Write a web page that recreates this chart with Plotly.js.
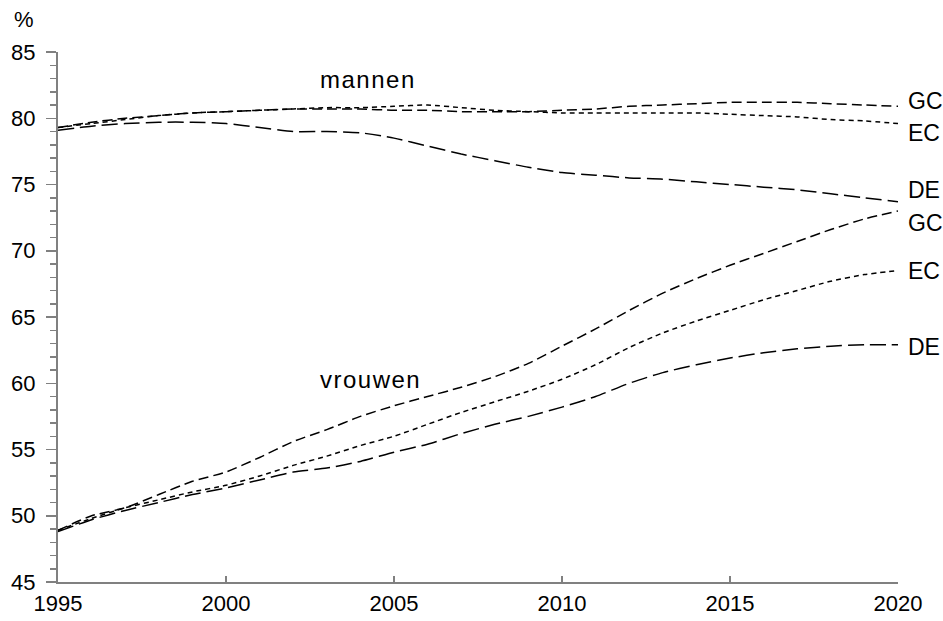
<!DOCTYPE html>
<html>
<head>
<meta charset="utf-8">
<script src="https://cdn.plot.ly/plotly-3.0.1.min.js"></script>
<style>html,body{margin:0;padding:0;background:#fff}#chart{width:943px;height:621px}</style>
</head>
<body>
<div id="chart"></div>
<script>
const years = [1995,1996,1997,1998,1999,2000,2001,2002,2003,2004,2005,2006,2007,2008,2009,2010,2011,2012,2013,2014,2015,2016,2017,2018,2019,2020];

const menGC   = [79.3,79.7,80.0,80.2,80.4,80.5,80.6,80.7,80.7,80.7,80.6,80.6,80.5,80.5,80.5,80.6,80.7,80.9,81.0,81.1,81.2,81.2,81.2,81.1,81.0,80.9];
const menEC   = [79.3,79.6,79.9,80.2,80.4,80.5,80.6,80.7,80.8,80.8,80.9,81.0,80.8,80.6,80.5,80.4,80.4,80.4,80.4,80.4,80.3,80.2,80.1,79.9,79.8,79.6];
const menDE   = [79.1,79.4,79.6,79.7,79.7,79.6,79.3,79.0,79.0,78.9,78.5,77.9,77.3,76.8,76.3,75.9,75.7,75.5,75.4,75.2,75.0,74.8,74.6,74.3,74.0,73.7];

const womenGC = [48.9,50.0,50.6,51.6,52.6,53.3,54.4,55.6,56.5,57.5,58.3,59.0,59.7,60.5,61.5,62.8,64.1,65.5,66.8,67.9,68.9,69.8,70.7,71.6,72.4,73.0];
const womenEC = [48.9,49.8,50.6,51.2,51.8,52.3,53.0,53.8,54.5,55.3,56.0,56.9,57.8,58.6,59.4,60.3,61.4,62.7,63.8,64.7,65.5,66.3,67.0,67.7,68.2,68.5];
const womenDE = [48.8,49.7,50.4,51.0,51.6,52.1,52.7,53.3,53.6,54.1,54.8,55.4,56.2,56.9,57.5,58.2,59.0,60.0,60.8,61.4,61.9,62.3,62.6,62.8,62.9,62.9];

const seriesLabels = ["GC","EC","DE"];
const groupLabels = ["mannen","vrouwen"];

const dashGC = "10px,5px", dashEC = "5px,4px", dashDE = "16px,6px";
function tr(y, dash){
  return {x: years, y: y, type:'scatter', mode:'lines',
    line:{color:'#000', width:1.5, dash:dash, shape:'spline', smoothing:0.6},
    hoverinfo:'skip', showlegend:false};
}
const data = [
  tr(menGC,dashGC), tr(menEC,dashEC), tr(menDE,dashDE),
  tr(womenGC,dashGC), tr(womenEC,dashEC), tr(womenDE,dashDE)
];

const FAM = 'Arial, "Liberation Sans", sans-serif';
const F = {family:FAM, size:22, color:'#000'};
const FL = {family:FAM, size:23, color:'#000'};
const FG = {family:FAM, size:24, color:'#000'};
function endLabel(text, yv){
  return {xref:'paper', yref:'y', x:1, y:yv, xanchor:'left', yanchor:'middle', xshift:8,
    text:text, showarrow:false, font:FL};
}
function spaced(t){ return '<span style="letter-spacing:1.5px">' + t + '</span>'; }
const annotations = [
  endLabel(seriesLabels[0], 81.3),
  endLabel(seriesLabels[1], 78.9),
  endLabel(seriesLabels[2], 74.6),
  endLabel(seriesLabels[0], 72.1),
  endLabel(seriesLabels[1], 68.5),
  endLabel(seriesLabels[2], 62.7),
  {xref:'x', yref:'y', x:2002.75, y:82.95, xanchor:'left', yanchor:'middle', text:spaced(groupLabels[0]), showarrow:false, font:FG},
  {xref:'x', yref:'y', x:2002.75, y:60.3, xanchor:'left', yanchor:'middle', text:spaced(groupLabels[1]), showarrow:false, font:FG},
  {xref:'paper', yref:'paper', x:-0.055, y:1.0, xanchor:'left', yanchor:'bottom', yshift:18, text:'%', showarrow:false, font:F}
];

const layout = {
  width:943, height:621,
  margin:{l:58, r:45, t:52, b:39},
  paper_bgcolor:'#fff', plot_bgcolor:'#fff',
  font:F,
  xaxis:{range:[1995,2020], tickvals:[1995,2000,2005,2010,2015,2020], ticks:'inside', ticklen:6, tickcolor:'#808080', tickwidth:1.5,
    showline:true, linecolor:'#808080', linewidth:2, showgrid:false, zeroline:false, tickfont:F, ticklabelstandoff:1},
  yaxis:{range:[45,85], tickvals:[45,50,55,60,65,70,75,80,85], ticks:'outside', ticklen:10, tickcolor:'#808080', tickwidth:1.5,
    minor:{dtick:1, ticks:'outside', ticklen:6, tickcolor:'#808080', tickwidth:1.5, showgrid:false},
    showline:true, linecolor:'#808080', linewidth:2, showgrid:false, zeroline:false, tickfont:F, ticklabelstandoff:6},
  annotations:annotations
};
Plotly.newPlot('chart', data, layout, {staticPlot:true, displayModeBar:false});
</script>
</body>
</html>
